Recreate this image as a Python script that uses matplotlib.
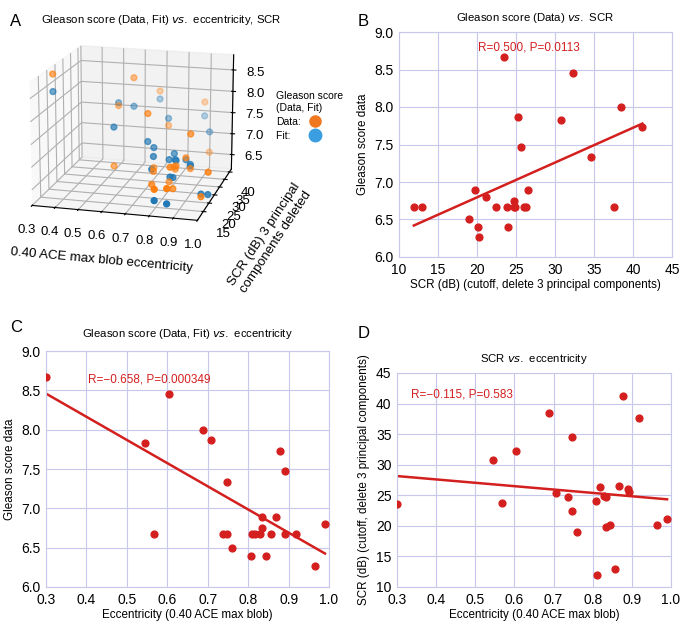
import numpy as np
import matplotlib
matplotlib.use('Agg')
import matplotlib.pyplot as plt
from matplotlib.lines import Line2D

plt.rcParams['font.family'] = ['Liberation Sans', 'DejaVu Sans']

# per-lesion values (eccentricity, SCR dB, Gleason score)
ecc = [0.30, 0.545, 0.567, 0.605, 0.688, 0.707, 0.737, 0.748, 0.748, 0.760,
       0.808, 0.810, 0.818, 0.830, 0.834, 0.834, 0.845, 0.857, 0.868, 0.878,
       0.890, 0.892, 0.918, 0.965, 0.990]
scr = [23.5, 30.8, 23.8, 32.3, 38.5, 25.3, 24.7, 34.6, 22.4, 19.0,
       24.0, 11.9, 26.3, 24.9, 24.8, 19.8, 20.1, 12.9, 26.5, 41.2,
       26.0, 25.6, 37.6, 20.2, 21.1]
gleason = [8.67, 7.83, 6.67, 8.45, 8.00, 7.87, 6.67, 7.33, 6.67, 6.50,
           6.40, 6.67, 6.67, 6.67, 6.75, 6.89, 6.40, 6.67, 6.89, 7.73,
           6.67, 7.47, 6.67, 6.27, 6.80]

ecc = np.array(ecc)
scr = np.array(scr)
gleason = np.array(gleason)

RED = '#d41f1f'
GRID = '#c8c8ec'

fig = plt.figure(figsize=(6.82, 6.23), dpi=100)

def style_2d(ax):
    for s in ax.spines.values():
        s.set_color(GRID)
    ax.grid(True, color=GRID, linewidth=0.8)
    ax.set_axisbelow(True)
    ax.tick_params(length=0, labelsize=10, pad=4)

def fit_line(ax, x, y):
    k, b = np.polyfit(x, y, 1)
    xs = np.array([x.min(), x.max()])
    ax.plot(xs, k * xs + b, color=RED, lw=1.8)

# ---- A : 3D scatter
ax = fig.add_axes([-0.035, 0.584, 0.458, 0.41], projection='3d')
X = np.column_stack([ecc, scr, np.ones_like(ecc)])
coef = np.linalg.lstsq(X, gleason, rcond=None)[0]
g_fit = X @ coef
ax.scatter(ecc, scr, gleason, color='#ff7f0e', s=18)
ax.scatter(ecc, scr, g_fit, color='#1f77b4', s=18)
ax.view_init(elev=16, azim=-75)
ax.set_xlim(0.3, 1.0)
ax.set_ylim(10, 42)
ax.set_zlim(6.15, 8.85)
ax.set_xticks([0.3, 0.4, 0.5, 0.6, 0.7, 0.8, 0.9, 1.0])
ax.set_yticks([15, 20, 25, 30, 35, 40])
ax.set_zticks([6.5, 7.0, 7.5, 8.0, 8.5])
ax.tick_params(labelsize=9.5)
ax.tick_params(axis='x', pad=2)
ax.set_xlabel('0.40 ACE max blob eccentricity', fontsize=9.5, labelpad=4)
ax.set_ylabel('SCR (dB) 3 principal\ncomponents deleted', fontsize=9.5, labelpad=12)
fig.text(0.236, 0.968, 'Gleason score (Data, Fit) $\\it{vs.}$ eccentricity, SCR',
         fontsize=8.2, ha='center', va='center')
handles = [Line2D([], [], ls='', marker='o', ms=8, color='#f07820'),
           Line2D([], [], ls='', marker='o', ms=9, color='#3a9ee0')]
fig.legend(handles, ['Data:', 'Fit:\u2003'], title='Gleason score\n(Data, Fit)',
           loc='upper left', bbox_to_anchor=(0.397, 0.862), frameon=False,
           markerfirst=False, fontsize=7.5, title_fontsize=7.5, handletextpad=0.4,
           labelspacing=0.4, alignment='left', borderpad=0)
fig.text(0.015, 0.965, 'A', fontsize=12, va='center')

# ---- B : Gleason vs SCR
ax = fig.add_axes([399/682, 1-257/623, 273/682, 225/623])
ax.scatter(scr, gleason, color=RED, s=24, zorder=3)
fit_line(ax, scr, gleason)
ax.set_xlim(10, 45)
ax.set_ylim(6.0, 9.0)
ax.set_xticks(range(10, 46, 5))
ax.set_yticks(np.arange(6.0, 9.01, 0.5))
ax.yaxis.set_major_formatter('{x:.1f}')
style_2d(ax)
ax.set_xlabel('SCR (dB) (cutoff, delete 3 principal components)', fontsize=8.4, labelpad=2)
ax.set_ylabel('Gleason score data', fontsize=8.4)
ax.set_title('Gleason score (Data) $\\it{vs.}$ SCR', fontsize=8.2, pad=8)
ax.text(0.29, 0.93, 'R=0.500, P=0.0113', transform=ax.transAxes, color=RED, fontsize=8.5, va='center')
fig.text(0.525, 0.965, 'B', fontsize=12, va='center')

# ---- C : Gleason vs eccentricity
ax = fig.add_axes([46/682, 1-587/623, 283/682, 236/623])
ax.scatter(ecc, gleason, color=RED, s=24, zorder=3)
fit_line(ax, ecc, gleason)
ax.set_xlim(0.3, 1.0)
ax.set_ylim(6.0, 9.0)
ax.set_xticks(np.arange(0.3, 1.01, 0.1))
ax.xaxis.set_major_formatter('{x:.1f}')
ax.set_yticks(np.arange(6.0, 9.01, 0.5))
ax.yaxis.set_major_formatter('{x:.1f}')
style_2d(ax)
ax.set_xlabel('Eccentricity (0.40 ACE max blob)', fontsize=8.4, labelpad=2)
ax.set_ylabel('Gleason score data', fontsize=8.4)
ax.set_title('Gleason score (Data, Fit) $\\it{vs.}$ eccentricity', fontsize=8.2, pad=10)
ax.text(0.15, 0.88, 'R=\u22120.658, P=0.000349', transform=ax.transAxes, color=RED, fontsize=8.5, va='center')
fig.text(0.015, 0.475, 'C', fontsize=12, va='center')

# ---- D : SCR vs eccentricity
ax = fig.add_axes([397/682, 1-587/623, 274/682, 214/623])
ax.scatter(ecc, scr, color=RED, s=24, zorder=3)
fit_line(ax, ecc, scr)
ax.set_xlim(0.3, 1.0)
ax.set_ylim(10, 45)
ax.set_xticks(np.arange(0.3, 1.01, 0.1))
ax.xaxis.set_major_formatter('{x:.1f}')
ax.set_yticks(range(10, 46, 5))
style_2d(ax)
ax.set_xlabel('Eccentricity (0.40 ACE max blob)', fontsize=8.4, labelpad=2)
ax.set_ylabel('SCR (dB) (cutoff, delete 3 principal components)', fontsize=8.4)
ax.set_title('SCR $\\it{vs.}$ eccentricity', fontsize=8.2, pad=8)
ax.text(0.05, 0.9, 'R=\u22120.115, P=0.583', transform=ax.transAxes, color=RED, fontsize=8.5, va='center')
fig.text(0.525, 0.465, 'D', fontsize=12, va='center')

fig.savefig('out.png', dpi=100)
